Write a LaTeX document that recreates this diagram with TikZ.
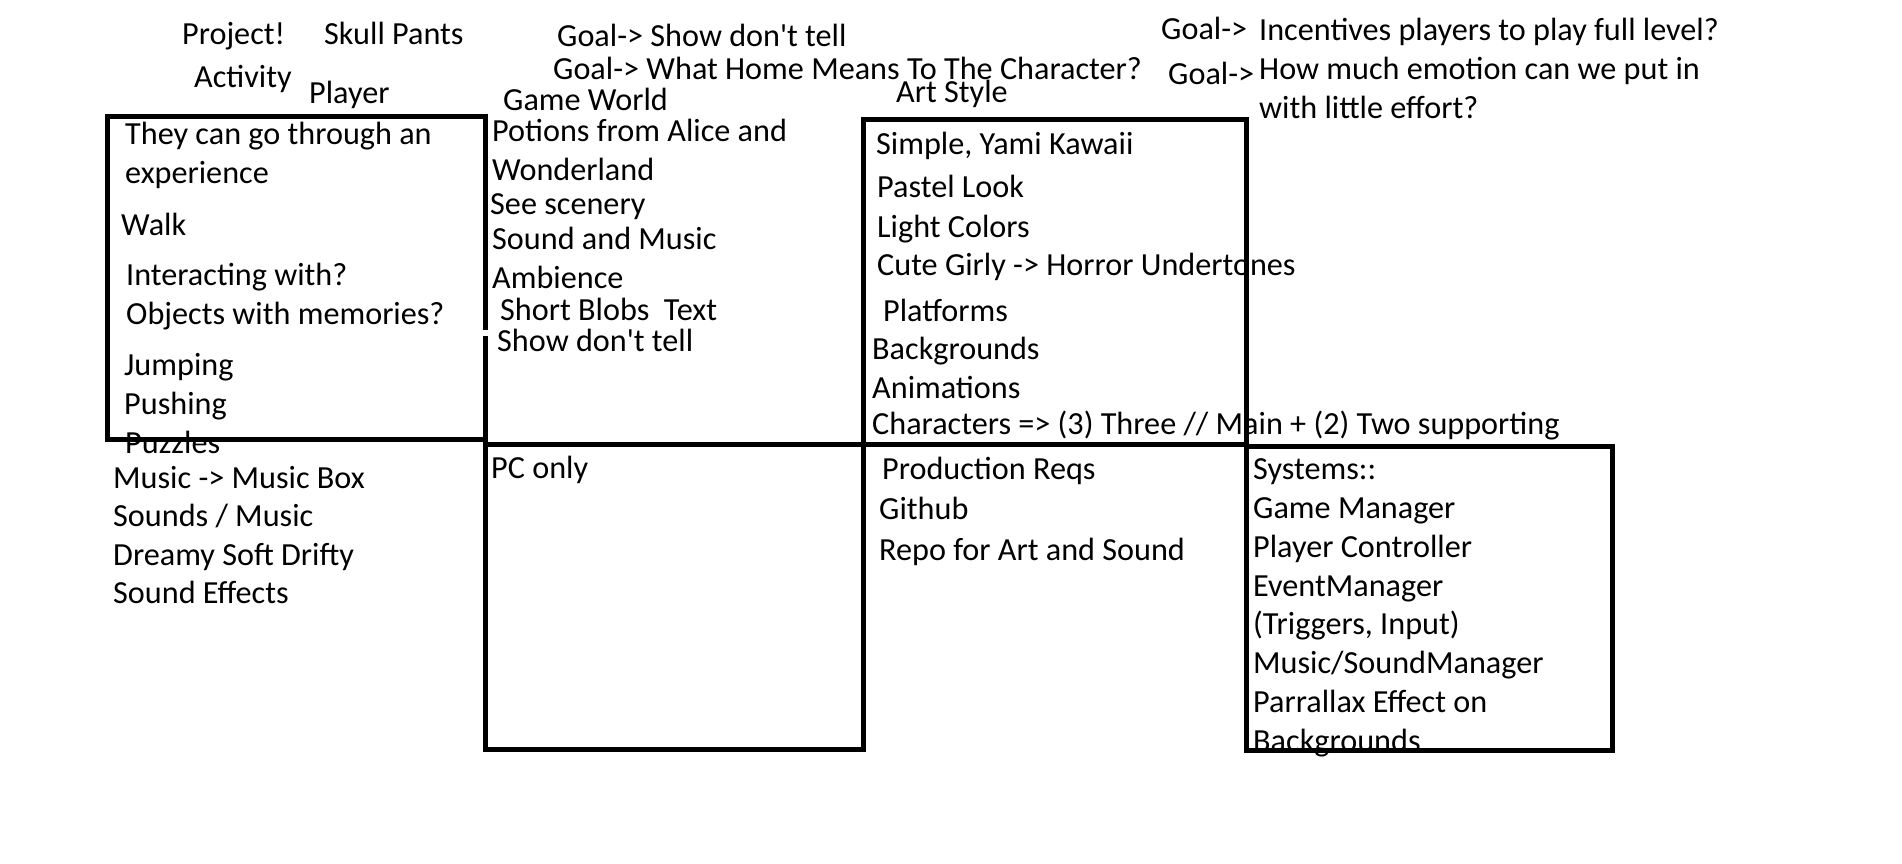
\documentclass[tikz,border=0pt]{standalone}
\usepackage{fontspec}
\setmainfont{Carlito}
\begin{document}
\begin{tikzpicture}[x=1pt,y=-1pt,
  lbl/.style={anchor=base west,inner sep=0pt,font=\fontsize{32.2}{39}\selectfont},
  frame/.style={line width=5pt,line cap=rect,line join=miter}]
\useasboundingbox[fill=white] (0,0) rectangle (1902,863);
% top labels
\node[lbl] (proj) at (182,44) {Project!};
\node[lbl] (skull) at (324,44) {Skull Pants};
\node[lbl] (act) at (194,87) {Activity};
\node[lbl] (player) at (309,103) {Player};
\node[lbl] (g1) at (557,46) {Goal-> Show don\textquotesingle t tell};
\node[lbl] (g2) at (553,79) {Goal-> What Home Means To The Character?};
\node[lbl] (gw) at (503,110) {Game World};
\node[lbl] (art) at (896,102) {Art Style};
\node[lbl] (g3) at (1161,39) {Goal->};
\node[lbl] (g3t) at (1259,40) {Incentives players to play full level?};
\node[lbl] (g4) at (1168,84) {Goal->};
\node[lbl] (g4t) at (1259,79) {How much emotion can we put in};
\node[lbl] (g4u) at (1259,118) {with little effort?};
% player column
\node[lbl] (p1) at (125,144) {They can go through an};
\node[lbl] (p2) at (125,183) {experience};
\node[lbl] (p3) at (121,235) {Walk};
\node[lbl] (p4) at (126,285) {Interacting with?};
\node[lbl] (p5) at (126,324) {Objects with memories?};
\node[lbl] (p6) at (124,375) {Jumping};
\node[lbl] (p7) at (124,414) {Pushing};
\node[lbl] (p8) at (125,453) {Puzzles};
\node[lbl] (p9) at (113,488) {Music -> Music Box};
\node[lbl] (p10) at (113,526) {Sounds / Music};
\node[lbl] (p11) at (113,565) {Dreamy Soft Drifty};
\node[lbl] (p12) at (113,603) {Sound Effects};
% game world column
\node[lbl] (w1) at (492,141) {Potions from Alice and};
\node[lbl] (w2) at (492,180) {Wonderland};
\node[lbl] (w3) at (490,214) {See scenery};
\node[lbl] (w4) at (492,249) {Sound and Music};
\node[lbl] (w5) at (492,288) {Ambience};
\node[lbl] (w6) at (500,320) {Short Blobs \ Text};
\node[lbl] (w7) at (497,351) {Show don\textquotesingle t tell};
\node[lbl] (w8) at (491,478) {PC only};
% art style column
\node[lbl] (a1) at (876,154) {Simple, Yami Kawaii};
\node[lbl] (a2) at (877,197) {Pastel Look};
\node[lbl] (a3) at (877,237) {Light Colors};
\node[lbl] (a4) at (877,275) {Cute Girly -> Horror Undertones};
\node[lbl] (a5) at (883,321) {Platforms};
\node[lbl] (a6) at (872,359) {Backgrounds};
\node[lbl] (a7) at (872,398) {Animations};
\node[lbl] (a8) at (872,434) {Characters => (3) Three // Main + (2) Two supporting};
% production
\node[lbl] (r1) at (882,479) {Production Reqs};
\node[lbl] (r2) at (879,519) {Github};
\node[lbl] (r3) at (879,560) {Repo for Art and Sound};
% systems
\node[lbl] (s1) at (1253,479) {Systems::};
\node[lbl] (s2) at (1253,518) {Game Manager};
\node[lbl] (s3) at (1253,557) {Player Controller};
\node[lbl] (s4) at (1253,596) {EventManager};
\node[lbl] (s5) at (1253,634) {(Triggers, Input)};
\node[lbl] (s6) at (1253,673) {Music/SoundManager};
\node[lbl] (s7) at (1253,712) {Parrallax Effect on};
\node[lbl] (s8) at (1253,751) {Backgrounds};
% frames
\draw[frame] (107,116) -- (485,116);
\draw[frame] (107,116) -- (107,439) -- (485,439);
\draw[frame] (485,116) -- (485,327);
\draw[frame] (485,338) -- (485,749) -- (863,749) -- (863,119) -- (1246,119) -- (1246,750);
\draw[frame] (485,444) -- (1246,444);
\draw[frame] (1246,446) -- (1612,446) -- (1612,750) -- (1246,750);
\end{tikzpicture}
\end{document}
